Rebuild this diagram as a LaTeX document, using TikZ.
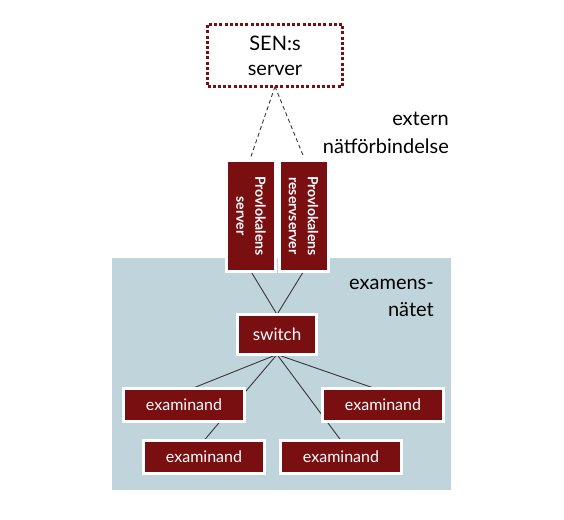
\documentclass[tikz,border=0pt]{standalone}
\usepackage{fontspec}
\setmainfont{Lato}
\usetikzlibrary{calc}
\definecolor{darkred}{RGB}{122,15,18}
\definecolor{netblue}{RGB}{192,212,220}
\definecolor{linegray}{RGB}{55,55,55}
\pgfdeclarelayer{bglayer}
\pgfdeclarelayer{linelayer}
\pgfsetlayers{bglayer,linelayer,main}
\begin{document}
\begin{tikzpicture}[x=1pt,y=-1pt,
  redbox/.style={draw=white,line width=3pt,fill=darkred,text=white,inner sep=0pt,outer sep=0pt,
    font=\fontsize{17}{20}\selectfont},
  vbox/.style={redbox,rotate=-90,minimum width=111pt,minimum height=49pt,align=center,
    font=\fontsize{14}{19}\selectfont\bfseries},
  ebox/.style={redbox,minimum width=121pt,minimum height=33pt,font=\fontsize{16}{20}\selectfont},
  link/.style={draw=linegray,line width=0.9pt},
  dlink/.style={draw=linegray,line width=0.9pt,dash pattern=on 4pt off 3pt},
  label/.style={align=right,anchor=east,inner sep=0pt,font=\fontsize{20}{28}\selectfont}]
\useasboundingbox (0,0) rectangle (564,519);
\begin{pgfonlayer}{bglayer}
\fill[netblue] (112,258) rectangle (451,490);
\end{pgfonlayer}
\node[draw=darkred,line width=3.3pt,dash pattern=on 3pt off 2.2pt,minimum width=135pt,minimum height=62pt,
  inner sep=0pt,outer sep=0pt,align=center,font=\fontsize{20}{25}\selectfont] (sen) at (275,55.5) {SEN:s\\server};
\node[label] (ext) at (449,133) {extern\\nätförbindelse};
\node[label,font=\fontsize{20}{27}\selectfont] (exn) at (434,298) {examens-\\nätet};
\node[vbox] (b1) at (251,216) {Provlokalens\\server};
\node[vbox] (b2) at (303.5,216) {Provlokalens\\reservserver};
\node[redbox,minimum width=79pt,minimum height=40pt] (sw) at (277,334.5) {switch};
\node[ebox] (e1) at (184,405) {examinand};
\node[ebox] (e2) at (383,405) {examinand};
\node[ebox] (e3) at (204,457) {examinand};
\node[ebox] (e4) at (341,457) {examinand};
\begin{pgfonlayer}{linelayer}
\draw[dlink] (sen.south) -- ($(b1.west)+(0,-4)$);
\draw[dlink] (sen.south) -- ($(b2.west)+(0,-4)$);
\draw[link] (b1.east) -- (sw.north);
\draw[link] (b2.east) -- (sw.north);
\draw[link] (sw.south) -- ($(e1.north)+(8,0)$);
\draw[link] (sw.south) -- ($(e2.north)+(-8,0)$);
\draw[link] (sw.south) -- (e3.north);
\draw[link] (sw.south) -- (e4.north);
\end{pgfonlayer}
\end{tikzpicture}
\end{document}
